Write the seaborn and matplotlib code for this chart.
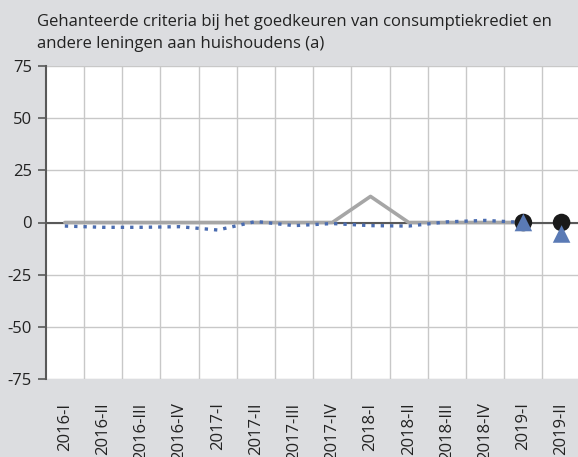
import matplotlib
matplotlib.use("Agg")
import matplotlib.pyplot as plt
import seaborn as sns
import numpy as np
import pandas as pd

categories = ["2016-I", "2016-II", "2016-III", "2016-IV", "2017-I", "2017-II", "2017-III",
              "2017-IV", "2018-I", "2018-II", "2018-III", "2018-IV", "2019-I", "2019-II"]
belgium_realised = [0, 0, 0, 0, 0, 0, 0, 0, 12.5, 0, 0, 0, 0]
euro_realised = [-1.7, -2.3, -2.3, -2.0, -3.6, 0.5, -1.5, -0.5, -1.5, -1.7, 0.3, 1.0, 0]
belgium_expected = [0, 0]
euro_expected = [0, -5.5]
expected_cats = ["2019-I", "2019-II"]
yticks = [75, 50, 25, 0, -25, -50, -75]
title_lines = ["Gehanteerde criteria bij het goedkeuren van consumptiekrediet en",
               "andere leningen aan huishoudens (a)"]

sns.set_theme(style="white")
plt.rcParams['font.family'] = ['Open Sans', 'DejaVu Sans']

bg = "#dcdde0"
W, H = 578, 457
fig = plt.figure(figsize=(W / 100, H / 100), dpi=100, facecolor=bg)
ax = fig.add_axes([45.7 / W, 1 - 379 / H, 535 / W, 313 / H])
ax.set_facecolor("white")

pos = {c: i for i, c in enumerate(categories)}
df1 = pd.DataFrame({"x": [pos[c] for c in categories[:len(belgium_realised)]], "y": belgium_realised})
df2 = pd.DataFrame({"x": [pos[c] for c in categories[:len(euro_realised)]], "y": euro_realised})
df3 = pd.DataFrame({"x": [pos[c] for c in expected_cats], "y": belgium_expected})
df4 = pd.DataFrame({"x": [pos[c] for c in expected_cats], "y": euro_expected})

ax.axhline(0, color="#595959", lw=1.5, zorder=2)
sns.lineplot(data=df1, x="x", y="y", ax=ax, color="#a6a6a6", lw=2.6, zorder=3)
sns.lineplot(data=df2, x="x", y="y", ax=ax, color="#4a6cb0", lw=2.4, zorder=4,
             linestyle=(0, (1, 1.8)))
sns.scatterplot(data=df3, x="x", y="y", ax=ax, color="#1a1a1a", s=160, marker="o",
                edgecolor="none", zorder=5)
sns.scatterplot(data=df4, x="x", y="y", ax=ax, color="#5a7ab5", s=160, marker="^",
                edgecolor="none", zorder=6)

ax.set_xlim(-0.5, 13.5)
ax.set_ylim(-75, 75)
ax.set_yticks(yticks)
ax.set_yticklabels([str(v) for v in yticks])
ax.set_xticks(range(len(categories)))
ax.set_xticklabels(categories, rotation=90)
ax.set_xticks(np.arange(0.5, 13.5, 1), minor=True)
ax.grid(False)
ax.yaxis.grid(True, color="#c8c8c8", lw=1)
ax.xaxis.grid(True, which="minor", color="#c8c8c8", lw=1)
ax.set_axisbelow(True)
for s in ["top", "right", "bottom"]:
    ax.spines[s].set_visible(False)
ax.spines["left"].set_color("#595959")
ax.spines["left"].set_linewidth(1.5)
ax.tick_params(axis="y", which="major", left=True, length=6, width=1.2, color="#595959",
               labelsize=12, labelcolor="#222222", pad=4)
ax.tick_params(axis="x", which="both", bottom=False, length=0, labelsize=12,
               labelcolor="#222222", pad=17)
ax.set_xlabel("")
ax.set_ylabel("")

fig.text(37 / W, 1 - 25.7 / H, title_lines[0], ha="left", va="baseline", fontsize=12,
         color="#222222")
fig.text(37 / W, 1 - 48 / H, title_lines[1], ha="left", va="baseline", fontsize=12,
         color="#222222")

fig.savefig("out.png", dpi=100, facecolor=bg)
